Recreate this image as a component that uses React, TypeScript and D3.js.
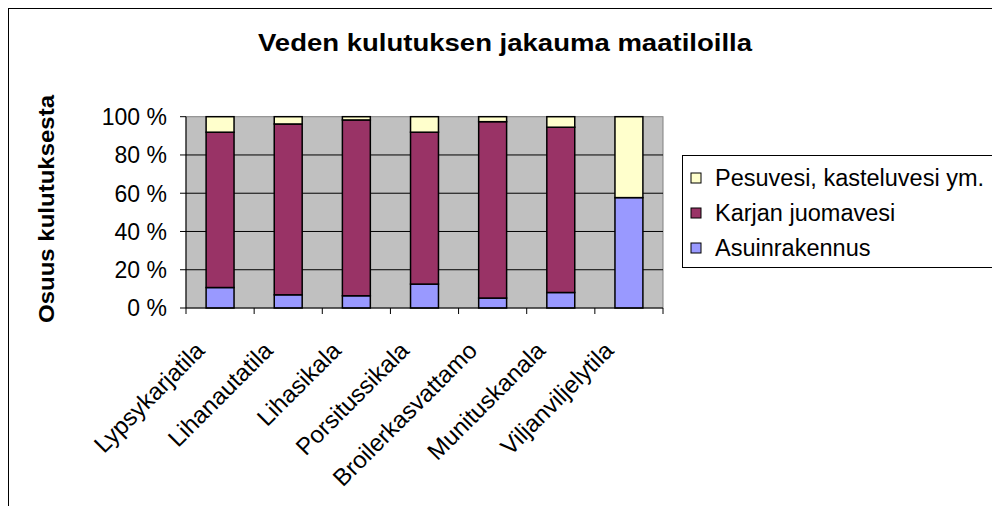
import React from "react";
import * as d3 from "d3";

const categories = ["Lypsykarjatila", "Lihanautatila", "Lihasikala", "Porsitussikala", "Broilerkasvattamo", "Munituskanala", "Viljanviljelytila"];
const asuinrakennus = [10.7, 6.9, 6.4, 12.5, 5.2, 8.1, 57.7];
const karjanJuomavesi = [81.2, 89.3, 91.9, 79.4, 92.2, 86.4, 0];
const pesuvesi = [8.1, 3.8, 1.7, 8.1, 2.6, 5.5, 42.3];
const seriesNames = ["Asuinrakennus", "Karjan juomavesi", "Pesuvesi, kasteluvesi ym."];
const seriesColors = ["#9999FF", "#993366", "#FFFFCC"];
const yTicks = [0, 20, 40, 60, 80, 100];

const W = 992, H = 506;
const left = 186, right = 663, top = 116.7, bottom = 308;
const FONT = "'Liberation Sans', Arial, sans-serif";

export default function App() {
  const x = d3.scaleBand<string>().domain(categories).range([left, right]).paddingInner(0.59).paddingOuter(0.295);
  const y = d3.scaleLinear().domain([0, 100]).range([bottom, top]);
  const rows = categories.map((c, i) => ({ c, a: asuinrakennus[i], k: karjanJuomavesi[i], p: pesuvesi[i] }));
  const stack = d3.stack<any>().keys(["a", "k", "p"])(rows);
  const step = (right - left) / categories.length;
  const legendOrder = [2, 1, 0];

  return (
    <svg width={W} height={H} style={{ position: "fixed", left: 0, top: 0, background: "#fff" }} fontFamily={FONT}>
      <rect x={8.5} y={8.5} width={1100} height={600} fill="#fff" stroke="#000" strokeWidth={1} />
      <text x={505} y={51} textAnchor="middle" fontWeight="bold" fontSize={23} textLength={494} lengthAdjust="spacingAndGlyphs">Veden kulutuksen jakauma maatiloilla</text>
      <rect x={left} y={top} width={right - left} height={bottom - top} fill="#C0C0C0" stroke="#808080" strokeWidth={1} />
      {yTicks.map((t) => (
        <g key={t}>
          {t > 0 && t < 100 ? <line x1={left} x2={right} y1={y(t)} y2={y(t)} stroke="#000" strokeWidth={1} /> : null}
          <line x1={left - 6} x2={left} y1={y(t)} y2={y(t)} stroke="#000" strokeWidth={1} />
          <text x={167} y={y(t)} dy="0.36em" textAnchor="end" fontSize={23}>{t} %</text>
        </g>
      ))}
      {stack.map((s, si) => (
        <g key={si}>
          {s.map((d, i) => (d[1] - d[0] > 0 ? (
            <rect key={i} x={x(categories[i])} y={y(d[1])} width={x.bandwidth()} height={y(d[0]) - y(d[1])} fill={seriesColors[si]} stroke="#000" strokeWidth={1.5} />
          ) : null))}
        </g>
      ))}
      <line x1={left} x2={left} y1={top} y2={bottom} stroke="#000" strokeWidth={1} />
      <line x1={left} x2={right} y1={bottom} y2={bottom} stroke="#000" strokeWidth={1} />
      {d3.range(categories.length + 1).map((i) => (
        <line key={i} x1={left + i * step} x2={left + i * step} y1={bottom} y2={bottom + 6} stroke="#000" strokeWidth={1} />
      ))}
      {categories.map((c, i) => {
        const cx = left + (i + 0.5) * step;
        const tx = cx - 14, ty = bottom + 44;
        return (
          <text key={c} x={tx} y={ty} transform={`rotate(-45 ${tx} ${ty})`} textAnchor="end" fontSize={24}>{c}</text>
        );
      })}
      <text transform="translate(54 209) rotate(-90)" textAnchor="middle" fontWeight="bold" fontSize={22} textLength={228} lengthAdjust="spacingAndGlyphs">Osuus kulutuksesta</text>
      <rect x={682.5} y={155.5} width={400} height={112} fill="#fff" stroke="#000" strokeWidth={1} />
      {legendOrder.map((si, j) => {
        const cy = 178 + j * 35;
        return (
          <g key={si}>
            <rect x={691} y={cy - 5} width={10} height={10} fill={seriesColors[si]} stroke="#000" strokeWidth={1} />
            <text x={715} y={cy} dy="0.36em" fontSize={23.5}>{seriesNames[si]}</text>
          </g>
        );
      })}
    </svg>
  );
}
